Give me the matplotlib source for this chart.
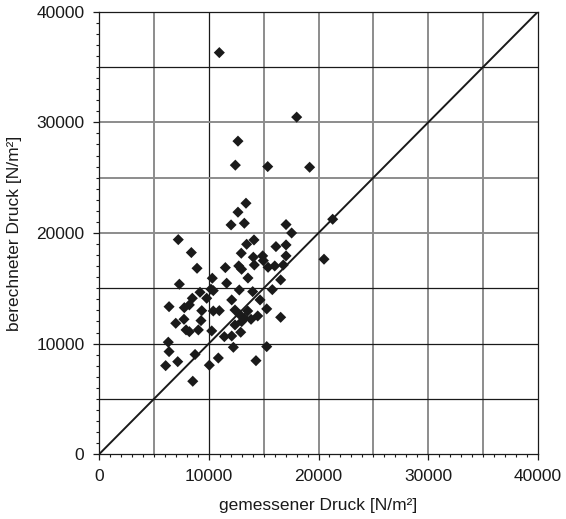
import matplotlib
matplotlib.use("Agg")
import matplotlib.pyplot as plt
from matplotlib.ticker import MultipleLocator

plt.rcParams['font.family'] = ['Liberation Sans', 'DejaVu Sans']

# gemessener Druck / berechneter Druck [N/m²]
gemessen = [10960, 18010, 12660, 12420, 15370, 19190, 13390, 12660, 12030, 13240,
            17040, 17550, 21290, 7220, 13450, 14120, 16120, 17040, 8410, 8930,
            11510, 12730, 12990, 12960, 13570, 10320, 11630, 7320, 20500, 14060,
            14910, 14970, 14150, 15400, 16010, 16790, 17040, 16550, 14000, 15790,
            10200, 10410, 9200, 12780, 8500, 9810, 12090, 14670, 6380, 7770,
            8230, 9360, 10410, 10960, 12390, 13550, 15280, 6990, 7740, 9290,
            12850, 13000, 13240, 13850, 14460, 16550, 7930, 8230, 9050, 10270,
            12390, 12910, 11420, 12090, 6310, 6380, 12240, 15280, 8750, 10870,
            7170, 6070, 10050, 8540, 14300]
berechnet = [36300, 30470, 28300, 26130, 26000, 25940, 22690, 21880, 20730, 20880,
             20760, 20000, 21240, 19400, 18980, 19370, 18770, 18920, 18230, 16810,
             16870, 17020, 16720, 18170, 15930, 15910, 15460, 15370, 17630, 17810,
             17930, 17500, 17110, 16900, 17020, 17110, 17930, 15760, 14700, 14880,
             14920, 14790, 14640, 14850, 14100, 14100, 13950, 13950, 13340, 13250,
             13500, 12980, 12950, 12980, 13040, 12950, 13140, 11840, 12200, 12080,
             12590, 11990, 12300, 12200, 12500, 12380, 11240, 11080, 11240, 11150,
             11690, 11030, 10630, 10690, 10130, 9280, 9670, 9730, 9020, 8700,
             8370, 8010, 8050, 6600, 8460]

fig = plt.figure(figsize=(5.66, 5.19), dpi=100)
ax = fig.add_axes([0.175, 0.1247, 0.7755, 0.8528])

ax.set_xlim(0, 40000)
ax.set_ylim(0, 40000)

# Gitter (wie im Original teils schwarz, teils grau)
for v in [5000, 15000, 20000, 25000, 30000, 35000]:
    ax.axvline(v, color='#8c8c8c', lw=1.4, zorder=1)
ax.axvline(10000, color='#1a1a1a', lw=0.9, zorder=1)
for v in [20000, 25000, 30000]:
    ax.axhline(v, color='#8c8c8c', lw=1.4, zorder=1)
for v in [5000, 10000, 15000, 35000]:
    ax.axhline(v, color='#1a1a1a', lw=0.9, zorder=1)

ax.plot([0, 40000], [0, 40000], color='#1a1a1a', lw=1.4, zorder=2)
ax.scatter(gemessen, berechnet, marker='D', s=32, color='#1a1a1a',
           edgecolors='none', zorder=3)

ax.xaxis.set_major_locator(MultipleLocator(10000))
ax.yaxis.set_major_locator(MultipleLocator(10000))
ax.xaxis.set_minor_locator(MultipleLocator(1000))
ax.yaxis.set_minor_locator(MultipleLocator(1000))
ax.tick_params(which='major', length=4.5, width=0.9, labelsize=12.5, pad=6, colors='#1a1a1a')
ax.tick_params(which='minor', length=2.2, width=0.8, colors='#1a1a1a')
for sp in ax.spines.values():
    sp.set_color('#1a1a1a')
    sp.set_linewidth(0.9)

ax.set_xlabel('gemessener Druck [N/m²]', fontsize=12.5, labelpad=10, color='#1a1a1a')
ax.set_ylabel('berechneter Druck [N/m²]', fontsize=12.5, labelpad=10, color='#1a1a1a')

fig.savefig('out.png', dpi=100)
